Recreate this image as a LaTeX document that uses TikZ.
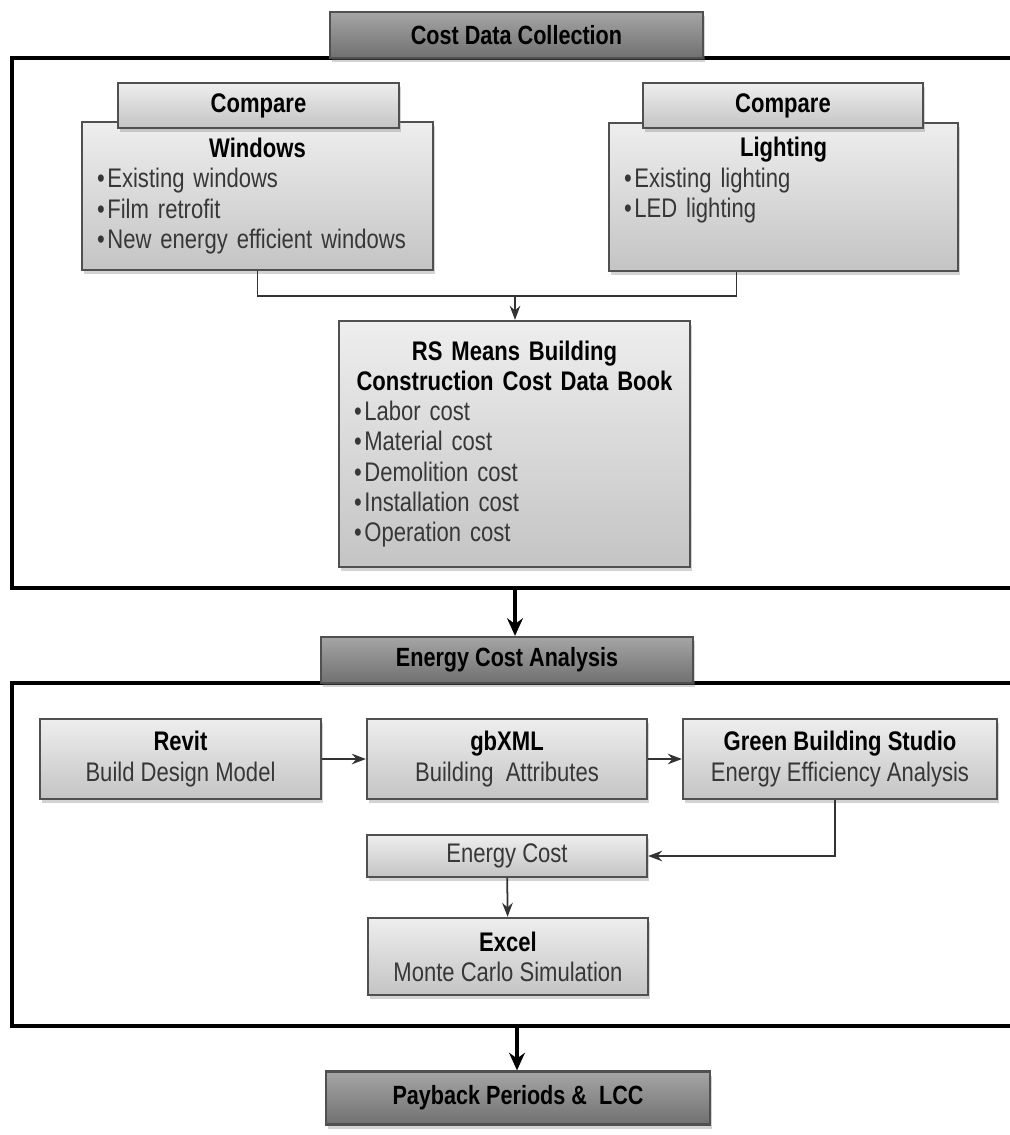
\documentclass[tikz,border=0pt]{standalone}
\usepackage{fontspec}
\setmainfont{Liberation Sans}[FakeStretch=0.82]
\usetikzlibrary{arrows.meta,positioning,shadows}
\definecolor{boxTop}{RGB}{238,238,238}
\definecolor{boxBottom}{RGB}{196,196,196}
\definecolor{headTop}{RGB}{165,165,165}
\definecolor{headBottom}{RGB}{112,112,112}
\definecolor{edgeGray}{RGB}{80,80,80}
\definecolor{textGray}{RGB}{55,55,55}
\newcommand{\itm}{\textbullet\kern1.5pt}
\tikzset{
  panel/.style={draw=edgeGray,line width=1.3pt,top color=boxTop,bottom color=boxBottom,
    drop shadow={shadow xshift=1pt,shadow yshift=-2.5pt,opacity=0.35},
    inner xsep=0.3cm,inner ysep=0pt,align=center,text=textGray,
    font=\fontsize{15.3}{17.2}\selectfont},
  headbox/.style={panel,top color=headTop,bottom color=headBottom,text=black,
    font=\bfseries\fontsize{15}{16}\selectfont},
  frameline/.style={line width=2.4pt,black},
  link/.style={draw=black!80,line width=1pt,-{Stealth[length=8pt,width=6pt]}},
  bigarrow/.style={line width=2.4pt,-{Stealth[length=10pt,width=9pt]}},
}

\begin{document}
\begin{tikzpicture}[x=0.02cm,y=-0.02cm]
\useasboundingbox (0,0) rectangle (1009,1135);

% frames
\draw[frameline] (1020,58) -- (12,58) -- (12,588) -- (1020,588);
\draw[frameline] (1020,683) -- (12,683) -- (12,1026) -- (1020,1026);

% cost data collection
\node[headbox,minimum width=7.46cm,minimum height=0.92cm] (cdc) at (516.5,35) {Cost Data Collection};

\node[panel,minimum width=7.02cm,minimum height=2.96cm,text width=6.42cm,align=left] (win) at (257.5,196)
{{\centering\bfseries\color{black} Windows\par}
\itm Existing windows\par
\itm Film retrofit\par
\itm New energy efficient windows};
\node[panel,minimum width=5.62cm,minimum height=0.9cm,text=black,font=\bfseries\fontsize{15.3}{17}\selectfont] (cmpL) at (258.5,105.5) {Compare};

\node[panel,minimum width=6.98cm,minimum height=2.96cm,text width=6.38cm,align=left] (light) at (783.5,197)
{{\centering\bfseries\color{black} Lighting\par}
\itm Existing lighting\par
\itm LED lighting\par
\strut};
\node[panel,minimum width=5.6cm,minimum height=0.9cm,text=black,font=\bfseries\fontsize{15.3}{17}\selectfont] (cmpR) at (783,105.5) {Compare};

\node[panel,minimum width=7.02cm,minimum height=4.92cm,text width=6.42cm,align=left] (rs) at (514.5,444)
{{\centering\bfseries\color{black} RS Means Building\par Construction Cost Data Book\par}
\itm Labor cost\par
\itm Material cost\par
\itm Demolition cost\par
\itm Installation cost\par
\itm Operation cost};

\coordinate (join) at (515,296);
\draw[draw=black!80,line width=1pt] (win.south) |- (join) -| ([xshift=-0.94cm]light.south);
\draw[link] (join) -- (join |- rs.north);

% energy cost analysis
\coordinate (out1) at (515,588);
\node[headbox,minimum width=7.44cm,minimum height=0.92cm] (eca) at (507,660) {Energy Cost Analysis};
\draw[bigarrow] (out1) -- (out1 |- eca.north);

\node[panel,minimum width=5.62cm,minimum height=1.6cm] (revit) at (180.5,759)
{{\bfseries\color{black} Revit}\\ Build Design Model};
\node[panel,minimum width=5.6cm,minimum height=1.6cm] (gbxml) at (507,759)
{{\bfseries\color{black} gbXML}\\ Building~ Attributes};
\node[panel,minimum width=6.28cm,minimum height=1.6cm] (gbs) at (840,759)
{{\bfseries\color{black} Green Building Studio}\\ Energy Efficiency Analysis};
\node[panel,minimum width=5.6cm,minimum height=0.84cm] (ecost) at (507,856) {Energy Cost};
\node[panel,minimum width=5.6cm,minimum height=1.54cm] (excel) at (508,956.5)
{{\bfseries\color{black} Excel}\\ Monte Carlo Simulation};

\draw[link] (revit) -- (gbxml);
\draw[link] (gbxml) -- (gbs);
\draw[link] ([xshift=-0.1cm]gbs.south) |- (ecost.east);
\draw[link] (ecost) -- (excel);

% result
\coordinate (out2) at (517,1026);
\node[headbox,minimum width=7.68cm,minimum height=1.06cm] (pay) at (518,1098) {Payback Periods \& ~LCC};
\draw[bigarrow] (out2) -- (out2 |- pay.north);

\end{tikzpicture}
\end{document}
